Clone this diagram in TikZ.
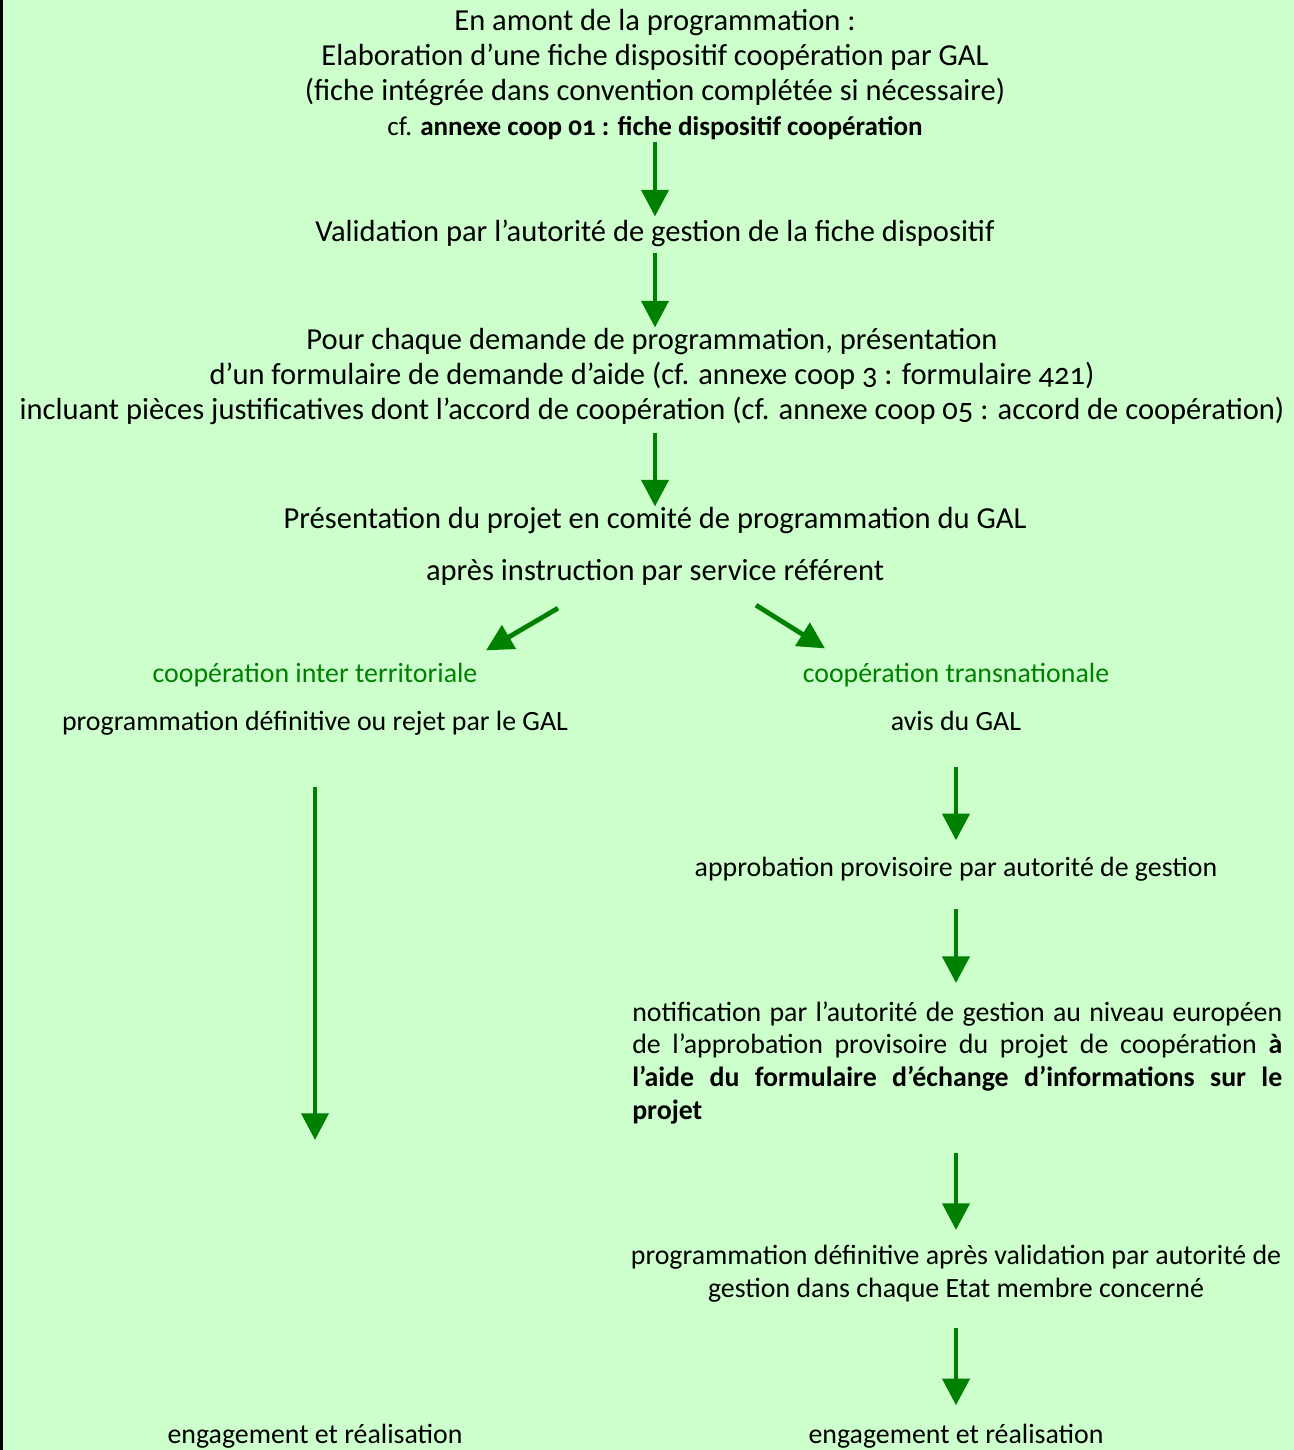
\documentclass[tikz,border=0pt]{standalone}
\usepackage{fontspec}
\setmainfont{Carlito}[Numbers=OldStyle]
\usetikzlibrary{arrows.meta, calc}
\definecolor{bggreen}{RGB}{204, 255, 204}
\definecolor{flowgreen}{RGB}{0, 128, 0}
\tikzset{
  flow/.style={-{Triangle[width=20pt, length=20pt]}, line width=3.6pt, flowgreen},
  txt/.style={inner sep=0pt, anchor=base, font=\fontsize{22.9}{26.25}\selectfont},
  subtxt/.style={inner sep=0pt, anchor=base, font={\fontsize{20.9}{24.5}\selectfont\hyphenpenalty10000\relax}},
  branch/.style={subtxt, text=flowgreen}
}

\begin{document}
\begin{tikzpicture}[x=0.75pt, y=-0.75pt]
  \useasboundingbox (0,0) rectangle (1294,1450);
  % Background and left rule
  \fill[bggreen] (0,0) rectangle (1294,1450);
  \draw[line width=2.25pt] (1.5,0) -- (1.5,1450);

  % Common trunk (multi-line nodes sit on their last baseline)
  \node[txt, align=center] (amont) at (655,135) {En amont de la programmation :\\
    Elaboration d’une fiche dispositif coopération par GAL\\
    (fiche intégrée dans convention complétée si nécessaire)\\
    {\fontsize{20.3}{26.25}\selectfont cf. \textbf{annexe coop 01 : fiche dispositif coopération}}};
  \node[txt] (valid) at (655,241) {Validation par l’autorité de gestion de la fiche dispositif};
  \node[txt, align=center] (demande) at (652,419) {Pour chaque demande de programmation, présentation\\
    d’un formulaire de demande d’aide (cf. annexe coop 3 : formulaire 421)\\
    incluant pièces justificatives dont l’accord de coopération (cf. annexe coop 05 : accord de coopération)};
  \node[txt] (comite) at (655,528) {Présentation du projet en comité de programmation du GAL};
  \node[txt] (apres) at (655,580) {après instruction par service référent};

  \draw[flow, shorten <=1.5pt, shorten >=2pt] (amont) -- (valid);
  \draw[flow, shorten <=4.8pt] (valid) -- (valid |- demande.north);
  \draw[flow, shorten <=6pt] (valid |- demande.south) -- (comite);

  % Inter territorial branch
  \node[branch] (interter) at (315,682) {coopération inter territoriale};
  \node[subtxt] (defL) at (315,730) {programmation définitive ou rejet par le GAL};
  \coordinate (stopL) at (315,1140);
  \node[subtxt] (engL) at (315,1443) {engagement et réalisation};

  % Transnational branch
  \node[branch] (transnat) at (956,682) {coopération transnationale};
  \node[subtxt] (avis) at (956,730) {avis du GAL};
  \node[subtxt] (approb) at (956,876) {approbation provisoire par autorité de gestion};
  \node[subtxt, anchor=base west, text width=487.5pt, align=justify] (notif) at (632,1021)
    {notification par l’autorité de gestion au niveau européen\linebreak
     de l’approbation provisoire du projet de coopération \textbf{à}\linebreak
     \textbf{l’aide du formulaire d’échange d’informations sur le}\linebreak
     \textbf{projet}};
  \node[subtxt, align=center] (defR) at (956,1297) {programmation définitive après validation par autorité de\\
    gestion dans chaque Etat membre concerné};
  \node[subtxt] (engR) at (956,1443) {engagement et réalisation};

  % Split
  \draw[flow] ($(apres.south)+(-97,23)$) -- ($(interter.north)+(171,-12)$);
  \draw[flow] ($(apres.south)+(101,20)$) -- ($(transnat.north)+(-131,-14)$);

  \draw[flow, shorten <=39pt] (defL) -- (stopL);
  \draw[flow, shorten <=27.5pt, shorten >=12pt] (avis) -- (approb);
  \draw[flow, shorten <=21pt, shorten >=13.5pt] (approb) -- (approb |- notif.north);
  \draw[flow, shorten <=22pt, shorten >=11pt] (approb |- notif.south) -- (defR);
  \draw[flow, shorten <=19.5pt, shorten >=13.5pt] (defR) -- (engR);
\end{tikzpicture}
\end{document}
